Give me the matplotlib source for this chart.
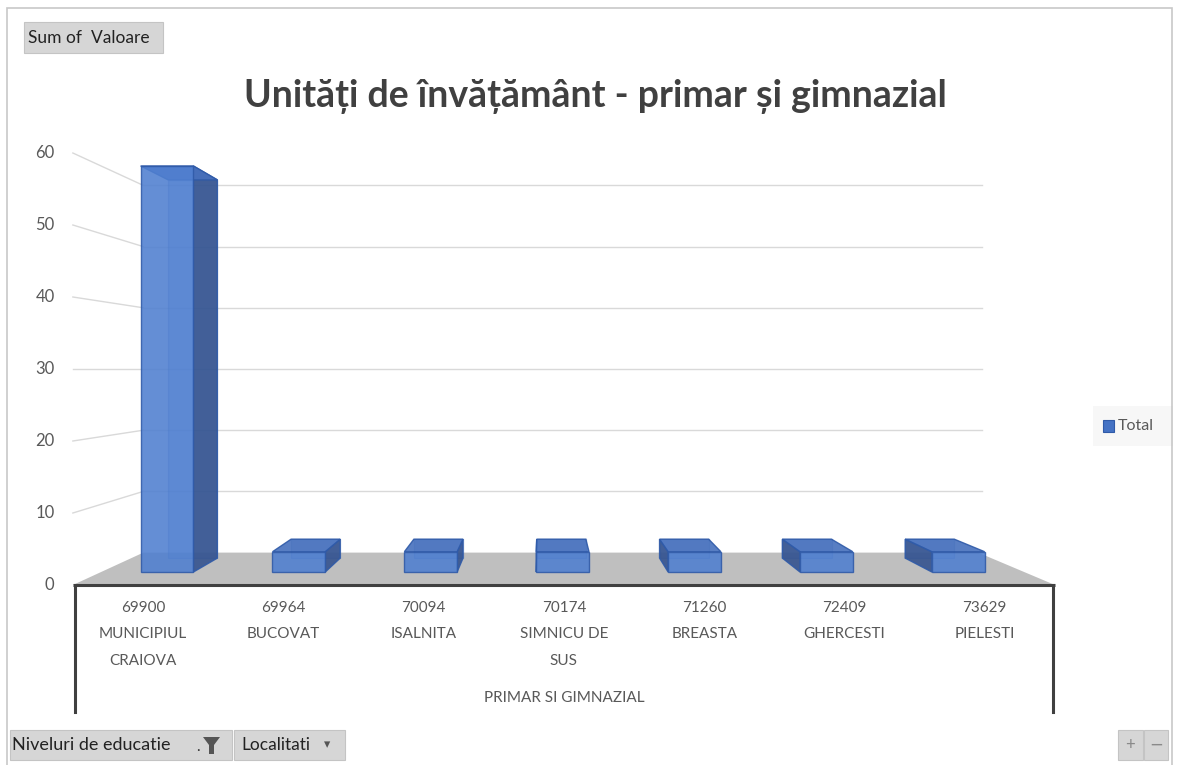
import matplotlib
matplotlib.use('Agg')
import matplotlib.pyplot as plt
from matplotlib.patches import Polygon, Rectangle
from matplotlib.transforms import Affine2D

plt.rcParams['font.family'] = ['Lato', 'DejaVu Sans']

# date din pivot
coduri = ['69900', '69964', '70094', '70174', '71260', '72409', '73629']
localitati = ['MUNICIPIUL\nCRAIOVA', 'BUCOVAT', 'ISALNITA', 'SIMNICU DE\nSUS',
              'BREASTA', 'GHERCESTI', 'PIELESTI']
valori = [60, 3, 3, 3, 3, 3, 3]
y_ticks = [0, 10, 20, 30, 40, 50, 60]
titlu = 'Unități de învățământ - primar și gimnazial'
grup = 'PRIMAR SI GIMNAZIAL'
serie = 'Total'

W, H = 1179, 765
FRONT = '#4f7fd0'
SIDE = '#34538f'
EDGE = '#2f5aa8'
GRID = '#d9d9d9'
TXT = '#595959'

# perspectiva: punct de fuga si adancimi
XV, YV = 2.85, 30.0
K_BACK = 0.15
T_FRONT, T_BACK = 0.40, 0.83


def scale(t):
    return 1 - K_BACK * t


def proj(x, v, t):
    k = scale(t)
    return XV + (x - XV) * k, YV + (v - YV) * k


def fx(px):
    return px / W


def fy(py):
    return 1 - py / H


fig = plt.figure(figsize=(W / 100, H / 100), dpi=100)
ax = fig.add_axes([0, 0, 1, 1])
ax.set_xlim(-143 / 140.3, (W - 143) / 140.3)
ax.set_ylim((585 - H) / 7.2, 585 / 7.2)
ax.set_axis_off()


def depth_tf(t):
    k = scale(t)
    return Affine2D().translate(-XV, -YV).scale(k).translate(XV, YV) + ax.transData


n = len(valori)
x0, x1 = -0.5, n - 0.5

# podea
ax.add_patch(Polygon([proj(x0, 0, 0), proj(x1, 0, 0), proj(x1, 0, 1), proj(x0, 0, 1)],
                     closed=True, facecolor='#bfbfbf', edgecolor='none', zorder=1))

# grila pe peretele din spate si pe cel din stanga
for v in y_ticks[1:]:
    a = proj(x0, v, 1)
    b = proj(x1 + 0.03, v, 1)
    ax.plot([a[0], b[0]], [a[1], b[1]], color=GRID, lw=1, zorder=0.5)
    c = proj(x0, v, 0)
    ax.plot([c[0], a[0]], [c[1], a[1]], color=GRID, lw=1, zorder=0.5)

for v in y_ticks:
    ax.text(-0.63, v, str(v), ha='right', va='center', fontsize=12, color=TXT)

# bare 3D
for i, v in enumerate(valori):
    xl, xr = i - 0.2, i + 0.2
    ax.bar(i, v, width=0.4, transform=depth_tf(T_BACK), facecolor=FRONT,
           alpha=0.35, edgecolor=EDGE, lw=1, zorder=2)
    xs = xr if i < XV else xl
    ax.add_patch(Polygon([proj(xs, 0, T_FRONT), proj(xs, v, T_FRONT),
                          proj(xs, v, T_BACK), proj(xs, 0, T_BACK)],
                         closed=True, facecolor=SIDE, edgecolor=EDGE, lw=1,
                         alpha=0.9, zorder=3))
    ax.add_patch(Polygon([proj(xl, v, T_FRONT), proj(xr, v, T_FRONT),
                          proj(xr, v, T_BACK), proj(xl, v, T_BACK)],
                         closed=True, facecolor='#4670bd', edgecolor=EDGE, lw=1,
                         alpha=0.9, zorder=3))
    ax.bar(i, v, width=0.4, transform=depth_tf(T_FRONT), facecolor=FRONT,
           alpha=0.88, edgecolor=EDGE, lw=1, zorder=4)

# axa categoriilor
ax.plot([x0, x1], [0, 0], color='#404040', lw=2.2, zorder=5, solid_capstyle='butt')
ax.plot([x0 + 0.015, x0 + 0.015], [0, -17.6], color='#404040', lw=2.2, zorder=5)
ax.plot([x1 - 0.015, x1 - 0.015], [0, -17.6], color='#404040', lw=2.2, zorder=5)

for i, (cod, loc) in enumerate(zip(coduri, localitati)):
    ax.text(i, -2.2, f'{cod}\n{loc}', ha='center', va='top', fontsize=11,
            color=TXT, linespacing=2.15)
ax.text((x0 + x1) / 2, -15.7, grup, ha='center', va='center', fontsize=11, color=TXT)

# titlu
fig.text(fx(595), fy(97), titlu, ha='center', va='center', fontsize=27,
         fontweight='bold', color='#404040')

# legenda
fig.add_artist(Rectangle((fx(1093), fy(446)), 80 / W, 40 / H, transform=fig.transFigure,
                         facecolor='#f7f7f7', edgecolor='none'))
fig.add_artist(Rectangle((fx(1103), fy(432)), 11 / W, 12 / H, transform=fig.transFigure,
                         facecolor='#4472c4', edgecolor=EDGE, lw=0.8))
fig.text(fx(1118), fy(426), serie, ha='left', va='center', fontsize=11.5, color=TXT)

# chenar
fig.add_artist(Rectangle((fx(7), fy(775)), 1165 / W, 767 / H, transform=fig.transFigure,
                         facecolor='none', edgecolor='#c8c8c8', lw=1.2))


# butoane pivot
def buton(xa, ya, xb, yb):
    fig.add_artist(Rectangle((fx(xa), fy(yb)), (xb - xa) / W, (yb - ya) / H,
                             transform=fig.transFigure, facecolor='#d6d6d6',
                             edgecolor='#c4c4c4', lw=0.8))


buton(24, 22, 163, 53)
fig.text(fx(28), fy(38), 'Sum of  Valoare', ha='left', va='center', fontsize=12.5, color='#222222')

buton(10, 730, 232, 760)
fig.text(fx(12), fy(745), 'Niveluri de educatie', ha='left', va='center', fontsize=13, color='#222222')
fig.text(fx(196), fy(747), '.', ha='left', va='center', fontsize=11, color='#333333')
fig.add_artist(Polygon([(fx(203), fy(737)), (fx(220), fy(737)), (fx(214), fy(745)),
                        (fx(214), fy(754)), (fx(209), fy(754)), (fx(209), fy(745))],
                       closed=True, transform=fig.transFigure, facecolor='#555555', edgecolor='none'))
buton(234, 730, 345, 760)
fig.text(fx(241), fy(745), 'Localitati', ha='left', va='center', fontsize=12.5, color='#222222')
fig.text(fx(324), fy(745), '▾', ha='left', va='center', fontsize=9, color='#555555',
         family='DejaVu Sans')

buton(1118, 730, 1143, 760)
buton(1144, 730, 1168, 760)
fig.text(fx(1130), fy(745), '+', ha='center', va='center', fontsize=12, color='#8a8a8a')
fig.text(fx(1156), fy(745), '−', ha='center', va='center', fontsize=12, color='#8a8a8a',
         family='DejaVu Sans')

fig.savefig('out.png', dpi=100)
